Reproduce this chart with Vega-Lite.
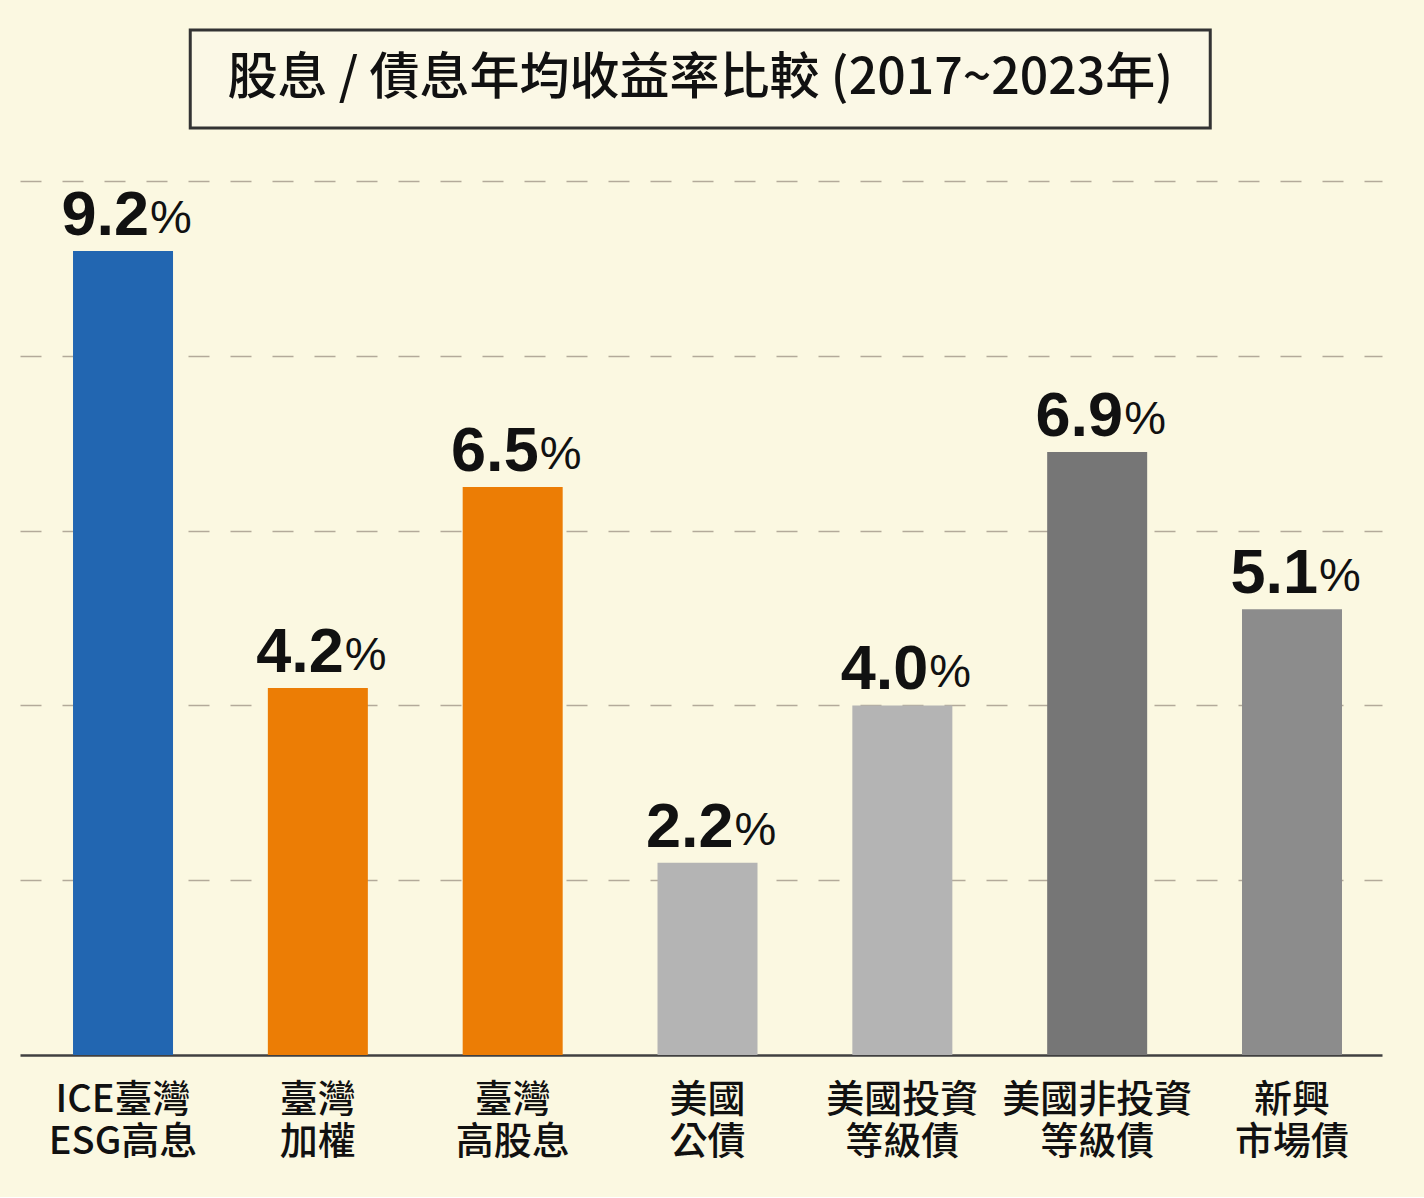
{
  "$schema": "https://vega.github.io/schema/vega-lite/v6.json",
  "background": "#fbf8e1",
  "padding": {"left": 20, "top": 28, "right": 42, "bottom": 36},
  "center": true,
  "spacing": 51,
  "config": {"view": {"stroke": null}},
  "datasets": {
    "title": [{"t": "股息 / 債息年均收益率比較 (2017~2023年)"}],
    "bars": [
      {"cat": "ICE臺灣|ESG高息", "v": 9.2},
      {"cat": "臺灣|加權", "v": 4.2},
      {"cat": "臺灣|高股息", "v": 6.5},
      {"cat": "美國|公債", "v": 2.2},
      {"cat": "美國投資|等級債", "v": 4.0},
      {"cat": "美國非投資|等級債", "v": 6.9},
      {"cat": "新興|市場債", "v": 5.1}
    ]
  },
  "vconcat": [
    {
      "width": 1020,
      "height": 98,
      "view": {"stroke": "#333333", "strokeWidth": 3, "fill": "#fbf8e6"},
      "data": {"name": "title"},
      "mark": {"type": "text", "font": "Noto Sans CJK TC", "fontSize": 50, "fontWeight": 500, "color": "#111111"},
      "encoding": {"text": {"field": "t"}}
    },
    {
      "width": 1362,
      "height": 874,
      "data": {"name": "bars"},
      "encoding": {
        "x": {
          "field": "cat",
          "type": "nominal",
          "sort": null,
          "scale": {"paddingInner": 0.4867, "paddingOuter": 0.2387, "align": 0.57},
          "axis": {
            "title": null,
            "labelAngle": 0,
            "labelExpr": "split(datum.value, '|')",
            "labelFont": "Noto Sans CJK TC",
            "labelFontSize": 38,
            "labelFontWeight": 500,
            "labelColor": "#111111",
            "labelLineHeight": 42,
            "labelPadding": 26,
            "labelLimit": 400,
            "labelOverlap": false,
            "labelBound": false,
            "ticks": false,
            "domain": true,
            "domainColor": "#404040",
            "domainWidth": 2.5,
            "grid": false
          }
        },
        "y": {
          "field": "v",
          "type": "quantitative",
          "scale": {"domain": [0, 10], "nice": false},
          "axis": {
            "title": null,
            "labels": false,
            "ticks": false,
            "domain": false,
            "grid": true,
            "values": [2, 4, 6, 8, 10],
            "gridColor": "#b3aa9a",
            "gridWidth": 1.5,
            "gridDash": [21, 21]
          }
        }
      },
      "layer": [
        {
          "mark": {"type": "bar"},
          "encoding": {
            "color": {
              "field": "cat",
              "type": "nominal",
              "legend": null,
              "scale": {
                "domain": ["ICE臺灣|ESG高息", "臺灣|加權", "臺灣|高股息", "美國|公債", "美國投資|等級債", "美國非投資|等級債", "新興|市場債"],
                "range": ["#2266b1", "#ec7d05", "#ec7d05", "#b4b4b4", "#b4b4b4", "#767676", "#8c8c8c"]
              }
            }
          }
        },
        {
          "mark": {"type": "text", "font": "Liberation Sans", "fontSize": 63, "fontWeight": "bold", "color": "#111111", "align": "right", "baseline": "alphabetic", "dx": 26, "dy": -16},
          "encoding": {"text": {"field": "v", "type": "quantitative", "format": ".1f"}}
        },
        {
          "mark": {"type": "text", "font": "Liberation Sans", "fontSize": 47, "color": "#111111", "align": "left", "baseline": "alphabetic", "dx": 27, "dy": -18},
          "encoding": {"text": {"value": "%"}}
        }
      ]
    }
  ]
}
